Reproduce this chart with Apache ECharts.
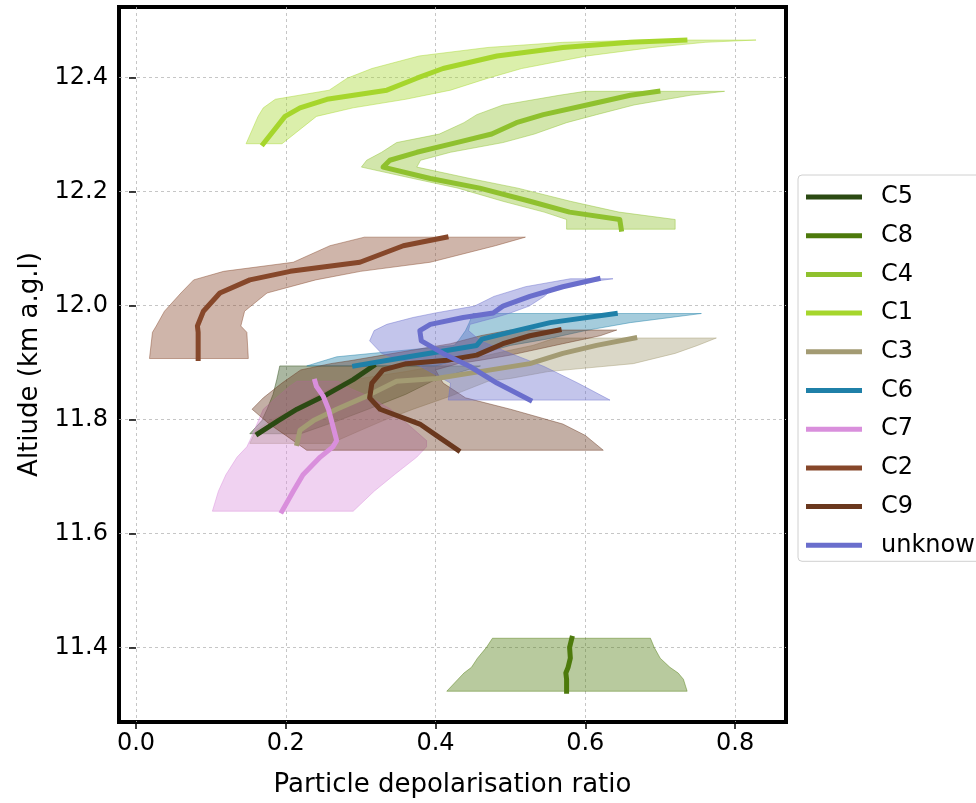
<!DOCTYPE html>
<html>
<head>
<meta charset="utf-8">
<script src="https://cdn.jsdelivr.net/npm/echarts@6/dist/echarts.min.js"></script>
<style>
html,body{margin:0;padding:0;background:#fff;}
#chart{width:976px;height:803px;}
</style>
</head>
<body>
<div id="chart"></div>
<script>
// ---- data: altitude (km), mean depol ratio, band low / high ----
var altC5  = [11.775, 11.798, 11.818, 11.844, 11.870, 11.894];
var meanC5 = [0.163, 0.190, 0.215, 0.255, 0.290, 0.317];
var loC5   = [0.152, 0.168, 0.175, 0.183, 0.188, 0.192];
var hiC5   = [0.22, 0.27, 0.31, 0.36, 0.40, 0.46];

var altC8  = [11.323, 11.344, 11.355, 11.365, 11.381, 11.400, 11.416];
var meanC8 = [0.575, 0.575, 0.574, 0.577, 0.580, 0.579, 0.582];
var loC8   = [0.415, 0.430, 0.438, 0.448, 0.456, 0.468, 0.476];
var hiC8   = [0.736, 0.731, 0.724, 0.713, 0.700, 0.692, 0.687];

var altC4  = [12.134, 12.151, 12.164, 12.183, 12.206, 12.223, 12.243, 12.255, 12.269, 12.286, 12.301, 12.321, 12.335, 12.352, 12.369, 12.376];
var meanC4 = [0.648, 0.646, 0.579, 0.526, 0.459, 0.393, 0.330, 0.339, 0.375, 0.428, 0.475, 0.508, 0.544, 0.602, 0.660, 0.697];
var loC4   = [0.575, 0.575, 0.545, 0.49, 0.43, 0.37, 0.301, 0.308, 0.328, 0.348, 0.405, 0.438, 0.455, 0.49, 0.565, 0.60];
var hiC4   = [0.720, 0.720, 0.645, 0.58, 0.51, 0.446, 0.375, 0.38, 0.42, 0.490, 0.532, 0.575, 0.615, 0.665, 0.74, 0.786];

var altC1  = [12.284, 12.332, 12.347, 12.362, 12.378, 12.399, 12.416, 12.438, 12.453, 12.462, 12.466];
var meanC1 = [0.170, 0.199, 0.219, 0.255, 0.335, 0.375, 0.410, 0.482, 0.570, 0.660, 0.733];
var loC1   = [0.147, 0.163, 0.170, 0.186, 0.258, 0.282, 0.315, 0.378, 0.47, 0.57, 0.68];
var hiC1   = [0.195, 0.241, 0.29, 0.36, 0.42, 0.47, 0.515, 0.602, 0.69, 0.76, 0.828];

var altC3  = [11.758, 11.781, 11.798, 11.818, 11.841, 11.867, 11.872, 11.884, 11.898, 11.916, 11.930, 11.943];
var meanC3 = [0.215, 0.219, 0.237, 0.268, 0.308, 0.348, 0.401, 0.459, 0.526, 0.570, 0.615, 0.666];
var loC3   = [0.152, 0.16, 0.18, 0.21, 0.24, 0.28, 0.30, 0.36, 0.42, 0.48, 0.53, 0.56];
var hiC3   = [0.26, 0.30, 0.33, 0.37, 0.42, 0.47, 0.50, 0.55, 0.664, 0.72, 0.75, 0.775];

var altC6  = [11.894, 11.910, 11.930, 11.941, 11.956, 11.970, 11.986];
var meanC6 = [0.292, 0.364, 0.455, 0.462, 0.508, 0.553, 0.640];
var loC6   = [0.228, 0.268, 0.425, 0.432, 0.44, 0.445, 0.45];
var hiC6   = [0.40, 0.446, 0.50, 0.548, 0.60, 0.66, 0.755];

var altC7  = [11.639, 11.674, 11.703, 11.734, 11.752, 11.763, 11.818, 11.841, 11.858, 11.867];
var meanC7 = [0.195, 0.210, 0.223, 0.246, 0.263, 0.268, 0.257, 0.250, 0.241, 0.239];
var loC7   = [0.102, 0.110, 0.12, 0.135, 0.148, 0.152, 0.17, 0.19, 0.205, 0.215];
var hiC7   = [0.290, 0.318, 0.345, 0.375, 0.388, 0.388, 0.34, 0.31, 0.28, 0.27];

var altC2  = [11.907, 11.953, 11.964, 11.990, 12.022, 12.045, 12.060, 12.076, 12.105, 12.120];
var meanC2 = [0.083, 0.083, 0.082, 0.090, 0.112, 0.152, 0.206, 0.299, 0.357, 0.414];
var loC2   = [0.018, 0.022, 0.027, 0.038, 0.060, 0.077, 0.117, 0.21, 0.259, 0.305];
var hiC2   = [0.150, 0.148, 0.140, 0.145, 0.175, 0.24, 0.30, 0.393, 0.48, 0.52];

var altC9  = [11.746, 11.772, 11.792, 11.818, 11.838, 11.864, 11.887, 11.898, 11.904, 11.913, 11.933, 11.947, 11.957];
var meanC9 = [0.430, 0.401, 0.379, 0.326, 0.312, 0.315, 0.330, 0.361, 0.415, 0.455, 0.490, 0.526, 0.565];
var loC9   = [0.228, 0.20, 0.178, 0.155, 0.17, 0.195, 0.22, 0.26, 0.29, 0.33, 0.42, 0.46, 0.50];
var hiC9   = [0.624, 0.60, 0.57, 0.50, 0.44, 0.41, 0.40, 0.43, 0.46, 0.50, 0.57, 0.62, 0.642];

var altUnk  = [11.834, 11.864, 11.893, 11.916, 11.938, 11.956, 11.967, 11.979, 11.987, 11.999, 12.016, 12.033, 12.047];
var meanUnk = [0.526, 0.482, 0.446, 0.410, 0.381, 0.379, 0.393, 0.437, 0.477, 0.490, 0.526, 0.570, 0.617];
var loUnk   = [0.417, 0.42, 0.38, 0.328, 0.312, 0.318, 0.335, 0.37, 0.40, 0.452, 0.478, 0.52, 0.58];
var hiUnk   = [0.633, 0.59, 0.545, 0.50, 0.46, 0.444, 0.446, 0.48, 0.50, 0.525, 0.545, 0.56, 0.637];

var names  = ['C5', 'C8', 'C4', 'C1', 'C3', 'C6', 'C7', 'C2', 'C9', 'unknown'];
var colors = ['#2b4a13', '#4d7a0c', '#8fc12e', '#a6d62c', '#a39b73', '#1f80a8', '#d98fdc', '#86472a', '#6a381e', '#6a6ecc'];
var xTicks = [0.0, 0.2, 0.4, 0.6, 0.8];
var yTicks = [11.4, 11.6, 11.8, 12.0, 12.2, 12.4];

var clusters = [
	[altC5, meanC5, loC5, hiC5],
	[altC8, meanC8, loC8, hiC8],
	[altC4, meanC4, loC4, hiC4],
	[altC1, meanC1, loC1, hiC1],
	[altC3, meanC3, loC3, hiC3],
	[altC6, meanC6, loC6, hiC6],
	[altC7, meanC7, loC7, hiC7],
	[altC2, meanC2, loC2, hiC2],
	[altC9, meanC9, loC9, hiC9],
	[altUnk, meanUnk, loUnk, hiUnk]
];

function rgba(hex, a) {
	var r = parseInt(hex.substr(1, 2), 16), g = parseInt(hex.substr(3, 2), 16), b = parseInt(hex.substr(5, 2), 16);
	return 'rgba(' + r + ',' + g + ',' + b + ',' + a + ')';
}

// shaded band: polygon lo (bottom->top) then hi (top->bottom)
function bandSeries(name, color, alt, lo, hi) {
	var pts = [];
	for (var i = 0; i < alt.length; i++) pts.push([lo[i], alt[i]]);
	for (var j = alt.length - 1; j >= 0; j--) pts.push([hi[j], alt[j]]);
	return {
		type: 'custom',
		name: name + ' band',
		z: 1,
		silent: true,
		data: pts,
		renderItem: function (params, api) {
			if (params.dataIndex !== 0) return;
			var p = pts.map(function (d) { return api.coord(d); });
			return {
				type: 'polygon',
				shape: { points: p },
				style: { fill: rgba(color, 0.4), stroke: rgba(color, 0.45), lineWidth: 1 }
			};
		}
	};
}

var series = [];
for (var k = 0; k < clusters.length; k++) {
	series.push(bandSeries(names[k], colors[k], clusters[k][0], clusters[k][2], clusters[k][3]));
}
for (var k = 0; k < clusters.length; k++) {
	var c = clusters[k];
	series.push({
		type: 'line',
		name: names[k],
		z: 3,
		symbol: 'none',
		color: colors[k],
		lineStyle: { width: 5, color: colors[k], cap: 'square', join: 'round' },
		data: c[0].map(function (a, i) { return [c[1][i], a]; })
	});
}

var font = 'DejaVu Sans';
var myChart = echarts.init(document.getElementById('chart'));
var option = {
	animation: false,
	backgroundColor: '#fff',
	grid: {
		left: 119, right: 190, top: 7, bottom: 68,
		show: true, borderColor: '#000', borderWidth: 4, backgroundColor: 'transparent'
	},
	legend: {
		orient: 'vertical',
		left: 798, top: 175,
		data: names,
		icon: 'rect',
		itemWidth: 56, itemHeight: 5, itemGap: 12.7,
		padding: [9, 40, 3, 8],
		borderColor: '#d0d0d0', borderWidth: 1, borderRadius: 4,
		textStyle: { fontSize: 24, fontFamily: font, color: '#000', lineHeight: 26, padding: [0, 0, 0, 14] }
	},
	xAxis: {
		type: 'value',
		min: -0.0227, max: 0.868,
		name: 'Particle depolarisation ratio',
		nameLocation: 'middle', nameGap: 50,
		nameTextStyle: { fontSize: 26, fontFamily: font, color: '#000' },
		axisLine: { show: false },
		axisTick: { show: true, customValues: xTicks, length: 7, lineStyle: { color: '#000', width: 1.5 } },
		axisLabel: { customValues: xTicks, fontSize: 24, fontFamily: font, color: '#000', margin: 10,
			formatter: function (v) { return v.toFixed(1); } },
		splitLine: { show: true, lineStyle: { color: '#b8b8b8', width: 0.8, type: [3, 3] } }
	},
	yAxis: {
		type: 'value',
		min: 11.269, max: 12.524,
		name: 'Altiude (km a.g.l)',
		nameLocation: 'middle', nameGap: 73, nameRotate: 90,
		nameTextStyle: { fontSize: 26, fontFamily: font, color: '#000' },
		axisLine: { show: false },
		axisTick: { show: true, customValues: yTicks, length: 7, lineStyle: { color: '#000', width: 1.5 } },
		axisLabel: { customValues: yTicks, fontSize: 24, fontFamily: font, color: '#000', margin: 11,
			formatter: function (v) { return v.toFixed(1); } },
		splitLine: { show: true, lineStyle: { color: '#b8b8b8', width: 0.8, type: [3, 3] } }
	},
	series: series
};
myChart.setOption(option);
</script>
</body>
</html>
